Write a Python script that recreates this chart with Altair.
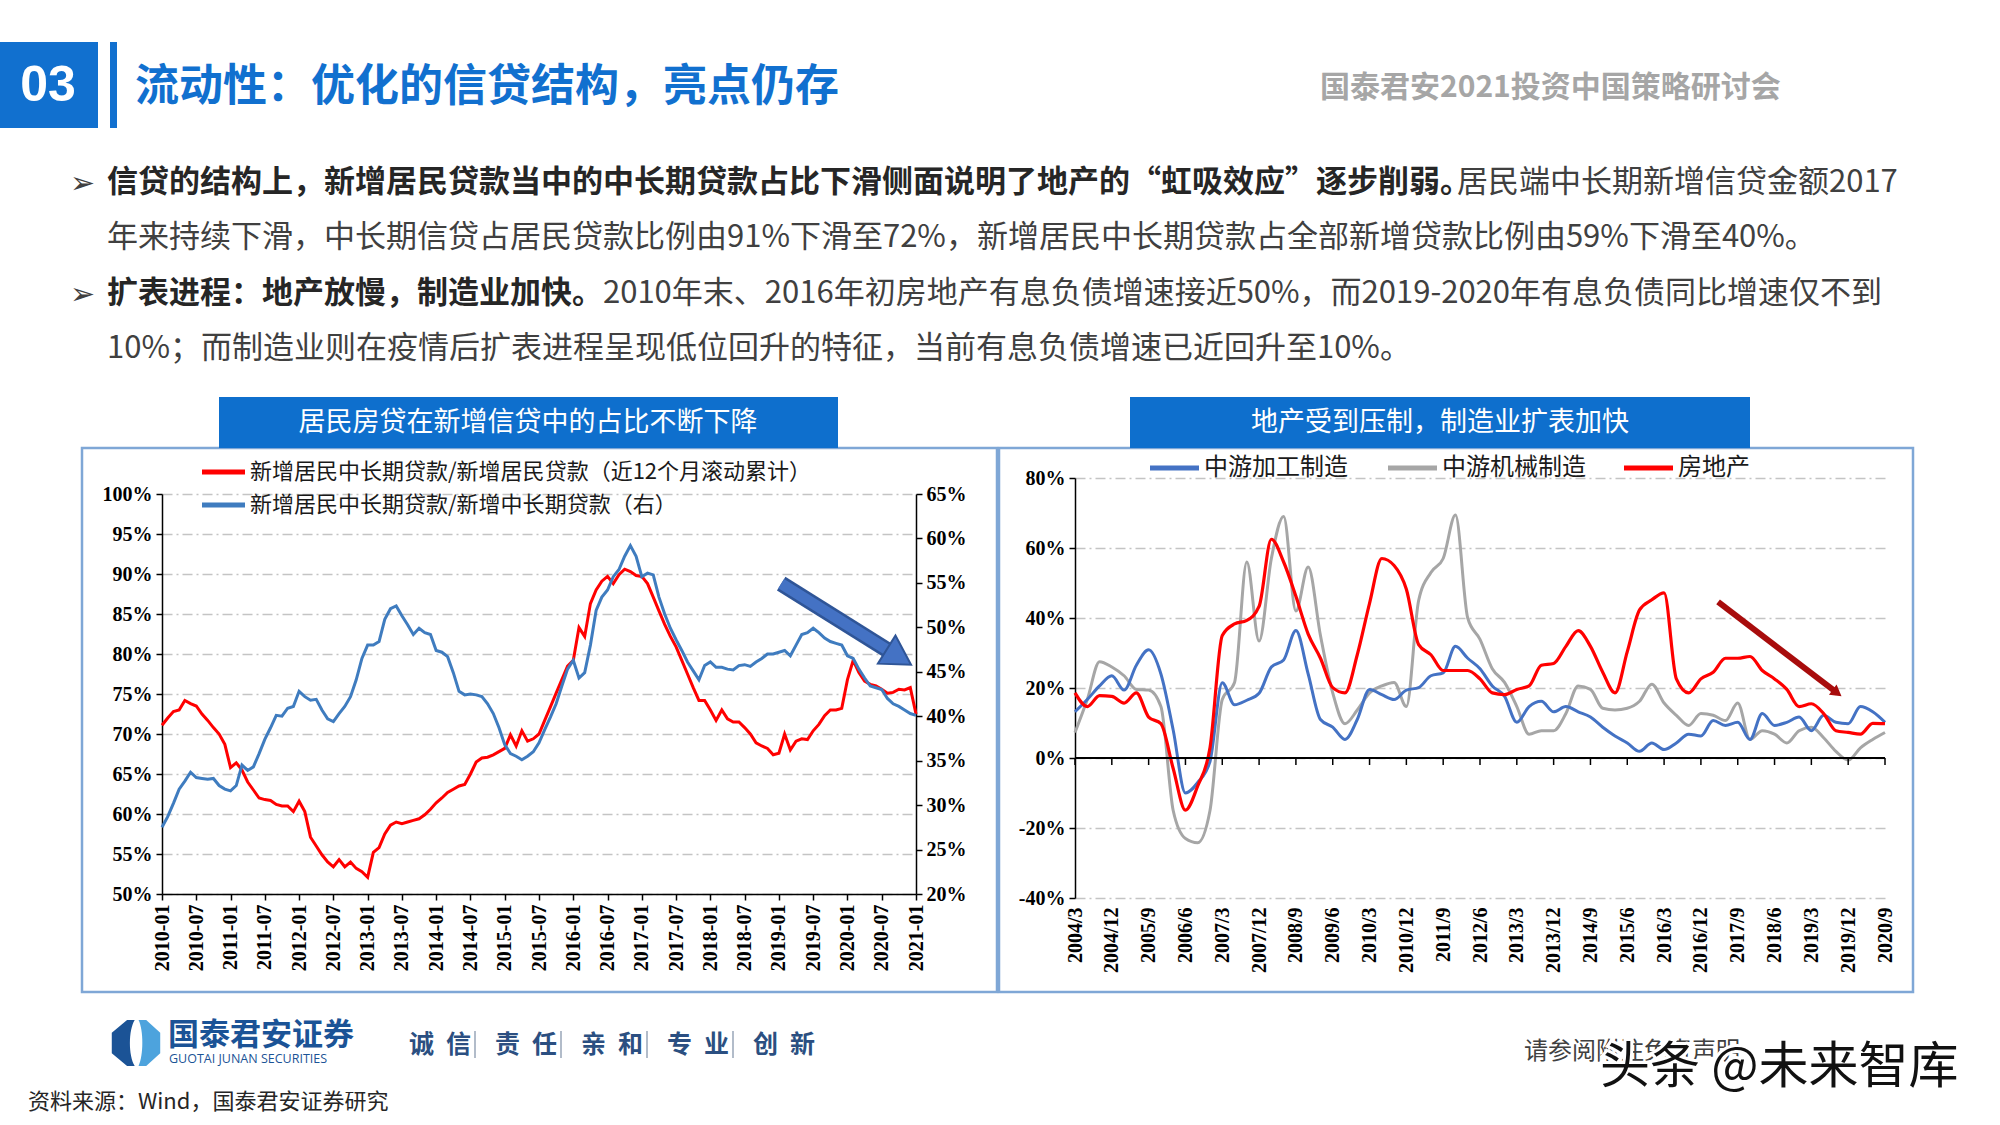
import altair as alt
import pandas as pd

# ---------------- data: left chart (monthly, 2010-01 .. 2021-01) ----------------
left_x_labels = ["2010-01", "2010-07", "2011-01", "2011-07", "2012-01", "2012-07", "2013-01",
                 "2013-07", "2014-01", "2014-07", "2015-01", "2015-07", "2016-01", "2016-07",
                 "2017-01", "2017-07", "2018-01", "2018-07", "2019-01", "2019-07", "2020-01",
                 "2020-07", "2021-01"]
res_share = [71.1, 72.0, 72.8, 73.0, 74.2, 73.8, 73.5, 72.5, 71.7, 70.8, 70.0, 68.7,
             65.8, 66.4, 65.5, 64.0, 63.0, 62.0, 61.8, 61.7, 61.2, 61.0, 61.0, 60.3,
             61.6, 60.3, 57.1, 56.0, 54.9, 54.0, 53.4, 54.3, 53.4, 54.0, 53.2, 52.8,
             52.1, 55.2, 55.8, 57.5, 58.6, 59.0, 58.8, 59.0, 59.2, 59.4, 59.9, 60.6,
             61.4, 62.0, 62.7, 63.1, 63.5, 63.7, 65.0, 66.5, 67.0, 67.1, 67.4, 67.8,
             68.2, 69.9, 68.5, 70.4, 69.1, 69.4, 70.0, 71.7, 73.4, 75.1, 76.8, 78.5,
             79.2, 83.3, 82.2, 86.3, 88.0, 89.1, 89.7, 88.8, 89.9, 90.6, 90.3, 89.8,
             89.7, 88.8, 87.1, 85.4, 83.7, 82.2, 80.9, 79.2, 77.5, 75.8, 74.2, 74.2,
             73.0, 71.7, 73.0, 71.9, 71.5, 71.5, 70.8, 70.0, 68.9, 68.5, 68.2, 67.4,
             67.6, 70.0, 68.0, 69.1, 69.4, 69.3, 70.4, 71.2, 72.3, 73.0, 73.0, 73.2,
             76.8, 79.2, 77.7, 76.6, 76.2, 76.0, 75.6, 75.1, 75.2, 75.6, 75.5, 75.8,
             72.5]
mlt_share = [27.5, 28.7, 30.2, 31.8, 32.7, 33.7, 33.1, 33.0, 32.9, 33.0, 32.2, 31.8,
             31.6, 32.2, 34.5, 33.9, 34.3, 35.8, 37.4, 38.7, 40.1, 40.0, 40.9, 41.1,
             42.8, 42.2, 41.8, 41.9, 40.7, 39.7, 39.4, 40.3, 41.1, 42.2, 44.1, 46.5,
             48.0, 48.0, 48.4, 50.9, 52.1, 52.4, 51.3, 50.3, 49.2, 49.9, 49.4, 49.2,
             47.4, 47.2, 46.7, 44.9, 42.8, 42.4, 42.5, 42.4, 42.2, 41.4, 40.3, 38.7,
             36.8, 35.8, 35.5, 35.1, 35.5, 36.0, 37.0, 38.5, 39.9, 41.4, 43.4, 45.3,
             46.3, 44.3, 44.9, 48.0, 51.9, 53.4, 54.2, 55.7, 56.5, 58.0, 59.2, 58.0,
             55.7, 56.1, 55.9, 53.4, 51.5, 49.9, 48.6, 47.4, 46.1, 45.1, 44.1, 45.7,
             46.1, 45.5, 45.5, 45.3, 45.2, 45.7, 45.8, 45.6, 46.1, 46.5, 47.0, 47.0,
             47.2, 47.4, 46.8, 48.0, 49.2, 49.4, 49.9, 49.4, 48.8, 48.4, 48.2, 48.0,
             46.8, 46.5, 45.3, 44.3, 43.4, 43.2, 43.0, 42.0, 41.4, 41.1, 40.7, 40.3,
             40.1]
left_arrow_x = [108.4, 129.0]
left_arrow_y = [88.8, 79.6]
LN = ["新增居民中长期贷款/新增居民贷款（近12个月滚动累计）", "新增居民中长期贷款/新增中长期贷款（右）"]
left_colors = ["#ff0000", "#3f7cbf"]

# ---------------- data: right chart (quarterly, 2004/3 .. 2020/9) ----------------
right_x_labels = ["2004/3", "2004/12", "2005/9", "2006/6", "2007/3", "2007/12", "2008/9",
                  "2009/6", "2010/3", "2010/12", "2011/9", "2012/6", "2013/3", "2013/12",
                  "2014/9", "2015/6", "2016/3", "2016/12", "2017/9", "2018/6", "2019/3",
                  "2019/12", "2020/9"]
mid_proc = [13.2, 16.7, 20.6, 23.5, 19.4, 26.5, 30.9, 24.0, 8.0, -10.0,
            -7.0, -1.0, 21.5, 15.2, 16.5, 18.5, 26.0, 28.0, 36.4, 24.0,
            11.0, 8.8, 5.3, 11.0, 19.6, 18.1, 16.7, 19.4, 20.1, 23.5,
            24.3, 31.9, 28.5, 25.5, 20.6, 17.6, 10.2, 14.7, 16.2, 13.2,
            14.7, 13.2, 11.7, 8.8, 6.3, 4.3, 1.9, 4.3, 2.4, 4.3,
            6.8, 6.3, 10.7, 9.3, 10.2, 5.3, 12.7, 9.3, 10.2, 11.7,
            7.8, 12.2, 10.2, 9.8, 14.7, 13.2, 10.2]
mid_mach = [7.3, 16.7, 27.5, 26.0, 23.5, 19.6, 19.4, 14.7, -15.0, -23.0,
            -24.2, -15.0, 16.7, 21.6, 56.0, 33.4, 57.0, 69.0, 42.0, 54.6,
            35.0, 18.6, 9.8, 13.7, 18.6, 20.6, 21.6, 14.7, 45.0, 53.0,
            57.0, 69.4, 40.0, 33.9, 25.5, 21.6, 14.7, 6.8, 7.8, 7.8,
            12.7, 20.6, 19.6, 14.2, 13.7, 14.2, 16.2, 21.1, 15.7, 12.2,
            9.3, 12.7, 12.2, 10.7, 15.7, 5.3, 7.8, 6.8, 4.3, 7.8,
            8.8, 5.8, 1.9, -0.6, 2.9, 5.3, 7.3]
real_est = [18.6, 14.7, 17.8, 17.6, 15.7, 18.6, 11.7, 9.8, -3.0, -14.9,
            -8.0, 2.9, 35.0, 38.3, 39.3, 43.3, 62.5, 56.0, 46.2, 35.4,
            28.5, 20.1, 18.6, 29.5, 44.2, 57.0, 55.0, 48.2, 32.4, 29.5,
            25.0, 25.0, 25.0, 22.6, 18.6, 18.1, 19.6, 20.6, 26.5, 27.0,
            31.9, 36.4, 31.9, 24.5, 18.6, 30.4, 42.3, 45.2, 47.2, 22.6,
            18.6, 22.6, 24.5, 28.5, 28.5, 29.0, 25.0, 22.6, 19.6, 14.7,
            15.5, 12.7, 7.8, 7.3, 6.8, 9.9, 9.8]
right_arrow_x = [52.4, 62.1]
right_arrow_y = [44.6, 18.6]
RN = ["中游加工制造", "中游机械制造", "房地产"]
right_colors = ["#4472c4", "#a6a6a6", "#ff0000"]

# ---------------- layout constants (page pixels) ----------------
OX, OY = 162, 478          # left plot origin on the page
LW, LH = 754, 416          # left plot size
RW, RH = 810, 420          # right plot size
GAP = 1075 - (OX + LW)     # gap between plots
BLUE = "#1170cf"
AXF = "Liberation Serif"
CJK = "Noto Sans CJK SC"

n_left = len(res_share)
n_right = len(real_est)


def lab_expr(labels, step):
    arr = ",".join("'%s'" % s for s in labels)
    return "[%s][round(datum.value/%d)]" % (arr, step)


def rect_layer(rows, **kw):
    df = pd.DataFrame([{"x1": a - OX, "y1": b - OY, "x2": c - OX, "y2": d - OY} for a, b, c, d in rows])
    return alt.Chart(df).mark_rect(**kw).encode(
        x=alt.X("x1:Q", scale=None), x2="x2:Q",
        y=alt.Y("y1:Q", scale=None), y2="y2:Q")


def text_layer(rows, **kw):
    df = pd.DataFrame([{"px": x - OX, "py": y - OY, "t": t} for x, y, t in rows])
    return alt.Chart(df).mark_text(**kw).encode(
        x=alt.X("px:Q", scale=None), y=alt.Y("py:Q", scale=None), text="t:N")


def vrule_layer(rows, **kw):
    df = pd.DataFrame([{"px": x - OX, "y1": a - OY, "y2": b - OY} for x, a, b in rows])
    return alt.Chart(df).mark_rule(**kw).encode(
        x=alt.X("px:Q", scale=None), y=alt.Y("y1:Q", scale=None), y2="y2:Q")


def legend_layers(entries, font_size):
    # entries: (x_line_start, x_line_end, y, label, colour)
    df = pd.DataFrame([{"a": a - OX, "b": b - OX, "py": y - OY, "t": t, "c": c} for a, b, y, t, c in entries])
    sym = alt.Chart(df).mark_rule(strokeWidth=5).encode(
        x=alt.X("a:Q", scale=None), x2="b:Q", y=alt.Y("py:Q", scale=None),
        color=alt.Color("c:N", scale=None))
    df2 = df.assign(tx=df["b"] + 5)
    lab = alt.Chart(df2).mark_text(font=CJK, fontSize=font_size, color="#1a1a1a", align="left",
                                   baseline="middle").encode(
        x=alt.X("tx:Q", scale=None), y=alt.Y("py:Q", scale=None), text="t:N")
    return [sym, lab]


# ---------------- slide decorations ----------------
deco = []
deco.append(rect_layer([(0, 0, 2000, 1125)], fill="white", opacity=0))
deco.append(rect_layer([(0, 42, 98, 128), (110, 42, 117, 128)], fill=BLUE))
deco.append(text_layer([(48, 86, "03")], font="Liberation Sans", fontSize=50, fontWeight="bold",
                       color="white", align="center", baseline="middle"))
deco.append(text_layer([(135, 88, "流动性：优化的信贷结构，亮点仍存")], font=CJK, fontSize=44,
                       fontWeight="bold", color=BLUE, align="left", baseline="middle"))
deco.append(text_layer([(1320, 88, "国泰君安2021投资中国策略研讨会")], font=CJK, fontSize=30,
                       fontWeight="bold", color="#a6a6a6", align="left", baseline="middle"))
deco.append(text_layer([(70, 184, "➢"), (70, 295, "➢")], font="DejaVu Sans", fontSize=30,
                       color="#404040", align="left", baseline="middle"))
deco.append(text_layer([
    (107, 183, "信贷的结构上，新增居民贷款当中的中长期贷款占比下滑侧面说明了地产的“虹吸效应”逐步削弱。"),
    (107, 294, "扩表进程：地产放慢，制造业加快。")],
    font=CJK, fontSize=31, fontWeight="bold", color="#262626", align="left", baseline="middle"))
deco.append(text_layer([
    (1457, 183, "居民端中长期新增信贷金额2017"),
    (107, 238, "年来持续下滑，中长期信贷占居民贷款比例由91%下滑至72%，新增居民中长期贷款占全部新增贷款比例由59%下滑至40%。"),
    (603, 294, "2010年末、2016年初房地产有息负债增速接近50%，而2019-2020年有息负债同比增速仅不到"),
    (107, 349, "10%；而制造业则在疫情后扩表进程呈现低位回升的特征，当前有息负债增速已近回升至10%。")],
    font=CJK, fontSize=31, color="#404040", align="left", baseline="middle"))
# chart panels
deco.append(rect_layer([(82, 448, 997, 992), (999, 448, 1913, 992)], fill="white", fillOpacity=0,
                       stroke="#7fa7d6", strokeWidth=2.5))
deco.append(rect_layer([(219, 397, 838, 448), (1130, 397, 1750, 448)], fill="#0e6fcd"))
deco.append(text_layer([(528, 423, "居民房贷在新增信贷中的占比不断下降"),
                        (1440, 423, "地产受到压制，制造业扩表加快")],
                       font=CJK, fontSize=27, color="white", align="center", baseline="middle"))
# legends
deco += legend_layers([(202, 245, 472, LN[0], left_colors[0]),
                       (202, 245, 505, LN[1], left_colors[1])], 22)
deco += legend_layers([(1150, 1199, 468, RN[0], right_colors[0]),
                       (1388, 1437, 468, RN[1], right_colors[1]),
                       (1624, 1673, 468, RN[2], right_colors[2])], 24)
# footer: logo
logo_df = pd.DataFrame({"px": [136 - OX], "py": [1043 - OY]})
left_half = "M -0.35,-0.9 L -0.05,-0.9 C -0.3,-0.5 -0.3,0.5 -0.05,0.9 L -0.35,0.9 L -0.95,0.4 L -0.95,-0.4 Z"
right_half = "M 0.1,-0.9 L 0.4,-0.9 L 0.95,-0.4 L 0.95,0.4 L 0.4,0.9 L 0.1,0.9 C 0.3,0.5 0.3,-0.5 0.1,-0.9 Z"
deco.append(alt.Chart(logo_df).mark_point(shape=left_half, size=2600, filled=True, color="#1b5396",
                                          opacity=1).encode(x=alt.X("px:Q", scale=None), y=alt.Y("py:Q", scale=None)))
deco.append(alt.Chart(logo_df).mark_point(shape=right_half, size=2600, filled=True, color="#4da3dd",
                                          opacity=1).encode(x=alt.X("px:Q", scale=None), y=alt.Y("py:Q", scale=None)))
deco.append(text_layer([(168, 1036, "国泰君安证券")], font=CJK, fontSize=31, fontWeight="bold",
                       color="#1b5396", align="left", baseline="middle"))
deco.append(text_layer([(169, 1059, "GUOTAI JUNAN SECURITIES")], font="Open Sans", fontSize=12.5,
                       color="#1b5396", align="left", baseline="middle"))
motto = ["诚", "信", "责", "任", "亲", "和", "专", "业", "创", "新"]
motto_rows = []
for k in range(5):
    motto_rows.append((409 + 86 * k, 1045, motto[2 * k]))
    motto_rows.append((446 + 86 * k, 1045, motto[2 * k + 1]))
deco.append(text_layer(motto_rows, font=CJK, fontSize=25, fontWeight="bold", color="#2b4f81",
                       align="left", baseline="middle"))
deco.append(vrule_layer([(475 + 86 * k, 1031, 1058) for k in range(4)], color="#7f8fa6", strokeWidth=1.2))
deco.append(text_layer([(28, 1102, "资料来源：Wind，国泰君安证券研究")], font=CJK, fontSize=22,
                       color="#262626", align="left", baseline="middle"))
deco.append(text_layer([(1524, 1052, "请参阅附注免责声明")], font=CJK, fontSize=24,
                       color="#404040", align="left", baseline="middle"))
deco.append(text_layer([(1600, 1068, "头条 @未来智库")], font=CJK, fontSize=50, color="white",
                       stroke="white", strokeWidth=6, align="left", baseline="middle"))
deco.append(text_layer([(1600, 1068, "头条 @未来智库")], font=CJK, fontSize=50, color="#111111",
                       align="left", baseline="middle"))

# ---------------- left chart ----------------
lx_scale = alt.Scale(domain=[0, n_left - 1], nice=False, zero=False)
ly_scale = alt.Scale(domain=[50, 100], range=[LH, 16], nice=False, zero=False)
ry_scale = alt.Scale(domain=[20, 65], range=[LH, 16], nice=False, zero=False)
lcolor = alt.Scale(domain=LN, range=left_colors)

left_ticks = list(range(0, n_left, 6))
x_left = alt.X("i:Q", scale=lx_scale,
               axis=alt.Axis(values=left_ticks, tickCount=len(left_ticks) + 5,
                             labelExpr=lab_expr(left_x_labels, 6),
                             labelAngle=270, labelFont=AXF, labelFontWeight="bold", labelFontSize=20,
                             labelColor="black", domainColor="black", domainWidth=1.5,
                             tickColor="black", tickWidth=1.5, tickSize=6, labelPadding=4,
                             labelOverlap=False, grid=False, title=None))

df_red = pd.DataFrame({"i": range(n_left), "v": res_share, "s": LN[0]})
df_blue = pd.DataFrame({"i": range(n_left), "v": mlt_share, "s": LN[1]})

red_line = alt.Chart(df_red).mark_line(strokeWidth=3).encode(
    x=x_left,
    y=alt.Y("v:Q", scale=ly_scale,
            axis=alt.Axis(values=list(range(50, 101, 5)), tickCount=20, labelExpr="datum.value + '%'",
                          labelFont=AXF, labelFontWeight="bold", labelFontSize=20, labelColor="black",
                          domainColor="black", domainWidth=1.5, tickColor="black", tickWidth=1.5,
                          tickSize=6, labelPadding=4, labelOverlap=False, grid=True, gridColor="#c4c4c4",
                          gridDash=[10, 4, 2, 4], gridWidth=1.3, title=None)),
    color=alt.Color("s:N", scale=lcolor, legend=None))

blue_line = alt.Chart(df_blue).mark_line(strokeWidth=3).encode(
    x=alt.X("i:Q", scale=lx_scale),
    y=alt.Y("v:Q", scale=ry_scale,
            axis=alt.Axis(orient="right", values=list(range(20, 66, 5)), tickCount=20,
                          labelExpr="datum.value + '%'",
                          labelFont=AXF, labelFontWeight="bold", labelFontSize=20, labelColor="black",
                          domainColor="black", domainWidth=1.5, tickColor="black", tickWidth=1.5,
                          tickSize=6, labelPadding=4, labelOverlap=False, grid=False, title=None)),
    color=alt.Color("s:N", scale=lcolor, legend=None))

df_la = pd.DataFrame({"i": left_arrow_x, "v": left_arrow_y})
la_x = alt.X("i:Q", scale=lx_scale)
la_y = alt.Y("v:Q", scale=ly_scale, axis=None)
left_arrow_outline = alt.Chart(df_la).mark_line(strokeWidth=16, color="#2f5597", strokeCap="butt").encode(x=la_x, y=la_y)
left_arrow_fill = alt.Chart(df_la).mark_line(strokeWidth=11, color="#4472c4", strokeCap="butt").encode(x=la_x, y=la_y)
left_arrow_head = alt.Chart(df_la.tail(1)).mark_point(shape="triangle-right", size=1100, filled=True,
                                                      color="#4472c4", stroke="#2f5597", strokeWidth=2,
                                                      opacity=1, angle=32).encode(x=la_x, y=la_y)

left_chart = alt.layer(*deco, red_line, blue_line, left_arrow_outline, left_arrow_fill,
                       left_arrow_head).resolve_scale(y="independent").properties(width=LW, height=LH)

# ---------------- right chart ----------------
rx_scale = alt.Scale(domain=[0, n_right - 1], nice=False, zero=False)
rr_scale = alt.Scale(domain=[-40, 80], nice=False, zero=False)
rcolor = alt.Scale(domain=RN, range=right_colors)

right_ticks = list(range(0, n_right, 3))
x_right = alt.X("i:Q", scale=rx_scale,
                axis=alt.Axis(values=right_ticks, tickCount=len(right_ticks) + 5,
                              labelExpr=lab_expr(right_x_labels, 3),
                              labelAngle=270, labelFont=AXF, labelFontWeight="bold", labelFontSize=20,
                              labelColor="black", domain=False, ticks=False, labelPadding=9,
                              labelOverlap=False, grid=False, title=None))
y_right = alt.Y("v:Q", scale=rr_scale,
                axis=alt.Axis(values=[-40, -20, 0, 20, 40, 60, 80], tickCount=20,
                              labelExpr="datum.value + '%'",
                              labelFont=AXF, labelFontWeight="bold", labelFontSize=20, labelColor="black",
                              domainColor="black", domainWidth=1.5, tickColor="black", tickWidth=1.5,
                              tickSize=6, labelPadding=4, labelOverlap=False, grid=True, gridColor="#c4c4c4",
                              gridDash=[10, 4, 2, 4], gridWidth=1.3, title=None))


def rseries(vals, name):
    return pd.DataFrame({"i": range(n_right), "v": vals, "s": name})


r_gray = alt.Chart(rseries(mid_mach, RN[1])).mark_line(strokeWidth=3, interpolate="monotone").encode(
    x=x_right, y=y_right, color=alt.Color("s:N", scale=rcolor, legend=None))
r_blue = alt.Chart(rseries(mid_proc, RN[0])).mark_line(strokeWidth=3, interpolate="monotone").encode(
    x=alt.X("i:Q", scale=rx_scale), y=alt.Y("v:Q", scale=rr_scale),
    color=alt.Color("s:N", scale=rcolor, legend=None))
r_red = alt.Chart(rseries(real_est, RN[2])).mark_line(strokeWidth=3.2, interpolate="monotone").encode(
    x=alt.X("i:Q", scale=rx_scale), y=alt.Y("v:Q", scale=rr_scale),
    color=alt.Color("s:N", scale=rcolor, legend=None))

zero_df = pd.DataFrame({"a": [0], "b": [n_right - 1], "v": [0]})
zero_line = alt.Chart(zero_df).mark_rule(color="black", strokeWidth=2).encode(
    x=alt.X("a:Q", scale=rx_scale), x2="b:Q", y=alt.Y("v:Q", scale=rr_scale))
tick_df = pd.DataFrame({"i": right_ticks, "v": 0, "v2": -2})
zero_ticks = alt.Chart(tick_df).mark_rule(color="black", strokeWidth=1.5).encode(
    x=alt.X("i:Q", scale=rx_scale), y=alt.Y("v:Q", scale=rr_scale), y2="v2:Q")

df_ra = pd.DataFrame({"i": right_arrow_x, "v": right_arrow_y})
ra_x = alt.X("i:Q", scale=rx_scale)
ra_y = alt.Y("v:Q", scale=rr_scale)
right_arrow = alt.Chart(df_ra).mark_line(strokeWidth=6, color="#a80c0c", strokeCap="butt").encode(x=ra_x, y=ra_y)
right_arrow_head = alt.Chart(df_ra.tail(1)).mark_point(shape="triangle-right", size=160, filled=True,
                                                       color="#a80c0c", opacity=1, angle=37).encode(x=ra_x, y=ra_y)

right_chart = alt.layer(r_gray, r_blue, r_red, zero_line, zero_ticks, right_arrow,
                        right_arrow_head).properties(width=RW, height=RH)

chart = alt.hconcat(left_chart, right_chart, spacing=GAP, bounds="flush").resolve_scale(
    color="independent", x="independent", y="independent").properties(
    padding=0, background="white").configure_view(stroke=None)

chart.save("out.html", embed_options={"renderer": "svg", "actions": False})
